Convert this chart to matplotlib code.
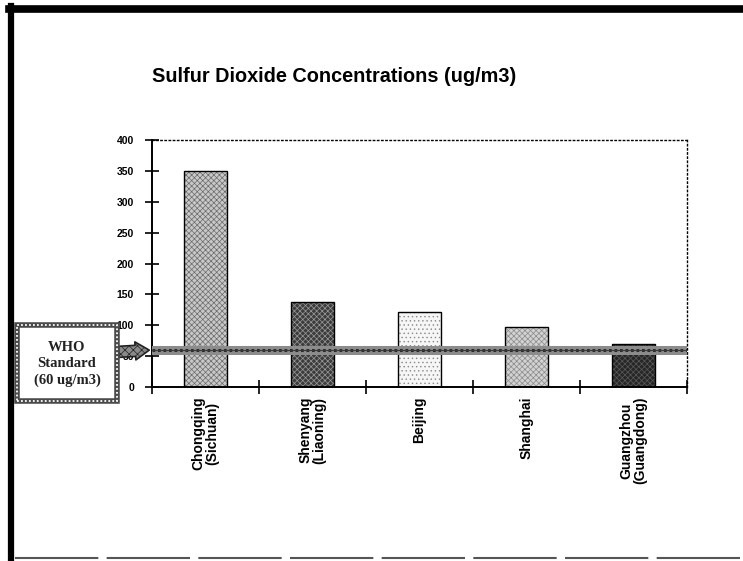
import matplotlib
matplotlib.use('Agg')
from matplotlib import pyplot as plt
from matplotlib.patches import Rectangle
from matplotlib.lines import Line2D

# data
cities = ['Chongqing\n(Sichuan)', 'Shenyang\n(Liaoning)', 'Beijing',
          'Shanghai', 'Guangzhou\n(Guangdong)']
so2 = [350, 137, 122, 97, 70]
who_standard = 60
yticks = [0, 50, 100, 150, 200, 250, 300, 350, 400]

# look of each bar (scan patterns)
faces = ['#c8c8c8', '#3c3c3c', '#f6f6f6', '#d2d2d2', '#262626']
hatches = ['xxxxxx', 'xxxxxx', '....', 'xxxxxx', 'xxxxxx']
hatch_cols = ['#6a6a6a', '#9a9a9a', '#888888', '#8a8a8a', '#5a5a5a']

plt.rcParams['font.family'] = ['Liberation Sans', 'DejaVu Sans']
plt.rcParams['hatch.linewidth'] = 0.5

fig = plt.figure(figsize=(7.43, 5.61), dpi=100)
W, H = 743.0, 561.0

def fx(px):
    return px / W

def fy(py):
    return 1 - py / H

ax = fig.add_axes([fx(152), fy(387), fx(687) - fx(152), fy(140) - fy(387)])

xs = list(range(len(cities)))
for i in xs:
    b = ax.bar(xs[i], so2[i], width=0.41, color=faces[i], edgecolor='black',
               linewidth=1.0, zorder=2)
    b[0].set_hatch(hatches[i])
    b[0]._hatch_color = matplotlib.colors.to_rgba(hatch_cols[i])

# WHO standard band (rope-like)
ax.axhline(who_standard, color='#8c8c8c', lw=6.5, zorder=3)
ax.axhline(who_standard, color='#2a2a2a', lw=2.2, ls=(0, (0.9, 0.9)), zorder=4)
ax.axhline(who_standard, color='#3a3a3a', lw=0.8, zorder=4)

ax.set_xlim(-0.5, len(cities) - 0.5)
ax.set_ylim(0, 400)
ax.set_yticks(yticks)
ax.set_yticklabels([str(v) for v in yticks], fontsize=7.5, fontweight='bold')
ax.tick_params(axis='y', direction='inout', length=10, width=1.2, pad=8)

ax.set_xticks(xs)
ax.set_xticklabels(cities, rotation=90, fontsize=10, fontweight='bold',
                   va='top', ha='center', linespacing=1.0)
ax.tick_params(axis='x', which='major', length=0, pad=7)
ax.set_xticks([i - 0.5 for i in range(len(cities) + 1)], minor=True)
ax.tick_params(axis='x', which='minor', direction='inout', length=10, width=1.2)

for s in ['top', 'right']:
    ax.spines[s].set_linestyle((0, (1, 2)))
    ax.spines[s].set_linewidth(1.0)
for s in ['left', 'bottom']:
    ax.spines[s].set_linewidth(1.4)

fig.text(fx(334), fy(77), 'Sulfur Dioxide Concentrations (ug/m3)',
         fontsize=14.3, fontweight='bold', ha='center', va='center')

# WHO box with hatched frame
box = Rectangle((fx(17), fy(401)), fx(117) - fx(17), fy(325) - fy(401),
                transform=fig.transFigure, facecolor='white',
                edgecolor='#4a4a4a', lw=4, zorder=5)
fig.patches.append(box)
box2 = Rectangle((fx(17), fy(401)), fx(117) - fx(17), fy(325) - fy(401),
                 transform=fig.transFigure, facecolor='none',
                 edgecolor='white', lw=1.3, ls=(0, (1, 1.2)), zorder=6)
fig.patches.append(box2)
fig.text(fx(67), fy(364), 'WHO\nStandard\n(60 ug/m3)', family='Liberation Serif',
         fontsize=10.5, fontweight='bold', ha='center', va='center',
         linespacing=1.35, color='#222222', zorder=7)

# arrow from box to the axis
ax.annotate('', xy=(-0.5, who_standard), xycoords='data',
            xytext=(fx(116), fy(352)), textcoords='figure fraction',
            arrowprops=dict(arrowstyle='simple,head_width=1.3,head_length=1.0,tail_width=0.8',
                            facecolor='#8a8a8a', edgecolor='#222222', lw=1.2,
                            hatch='xxxx'),
            annotation_clip=False, zorder=8)

# page frame from the scan
fig.add_artist(Line2D([fx(9), fx(743)], [fy(9), fy(9)], color='black', lw=5.5))
fig.add_artist(Line2D([fx(11), fx(11)], [fy(6), fy(561)], color='black', lw=4.5))
fig.add_artist(Line2D([fx(15), fx(743)], [fy(558), fy(558)], color='#555555',
                      lw=1.5, ls=(0, (40, 4))))

fig.savefig('out.png', dpi=100)
